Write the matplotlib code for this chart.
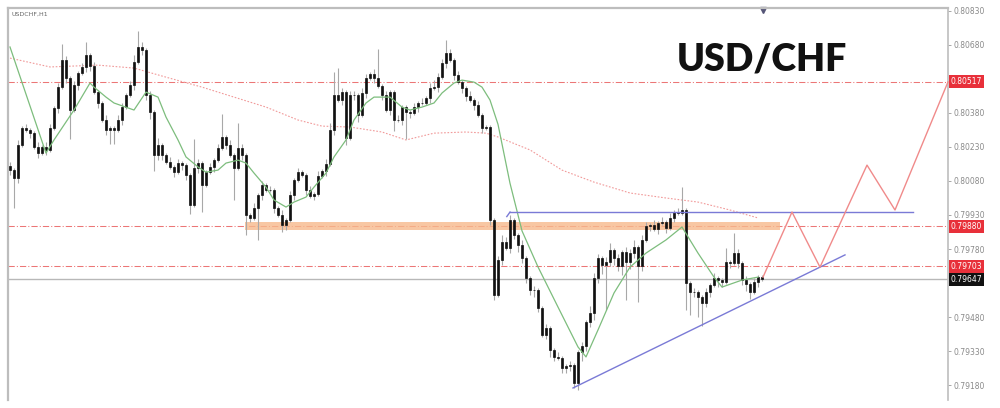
import numpy as np
import matplotlib
matplotlib.use('Agg')
import matplotlib.pyplot as plt
from matplotlib.transforms import blended_transform_factory

# ---- USDCHF H1 closes (one per candle, oldest first)
first_open = 0.80145
closes = [
    0.80128, 0.80093, 0.80239, 0.80313, 0.80305, 0.80291, 0.80230, 0.80203, 0.80230, 0.80216,
    0.80313, 0.80402, 0.80494, 0.80613, 0.80534, 0.80393, 0.80503, 0.80556, 0.80582, 0.80635,
    0.80587, 0.80472, 0.80424, 0.80349, 0.80305, 0.80313, 0.80305, 0.80349, 0.80406, 0.80459,
    0.80503, 0.80605, 0.80671, 0.80657, 0.80459, 0.80384, 0.80194, 0.80239, 0.80194, 0.80164,
    0.80141, 0.80119, 0.80159, 0.80150, 0.80106, 0.79974, 0.80137, 0.80159, 0.80062, 0.80119,
    0.80141, 0.80172, 0.80225, 0.80274, 0.80239, 0.80194, 0.80137, 0.80225, 0.80194, 0.79930,
    0.79917, 0.79961, 0.80018, 0.80062, 0.80040, 0.80040, 0.79961, 0.79930, 0.79886, 0.79908,
    0.80018, 0.80084, 0.80119, 0.80106, 0.80040, 0.80014, 0.80022, 0.80102, 0.80124, 0.80155,
    0.80305, 0.80459, 0.80437, 0.80472, 0.80269, 0.80459, 0.80459, 0.80371, 0.80468, 0.80534,
    0.80552, 0.80534, 0.80499, 0.80459, 0.80393, 0.80472, 0.80349, 0.80349, 0.80406, 0.80384,
    0.80380, 0.80406, 0.80424, 0.80424, 0.80446, 0.80490, 0.80494, 0.80538, 0.80600, 0.80644,
    0.80613, 0.80547, 0.80516, 0.80490, 0.80455, 0.80437, 0.80415, 0.80371, 0.80313, 0.80318,
    0.79908, 0.79577, 0.79731, 0.79811, 0.79784, 0.79908, 0.79842, 0.79798, 0.79740, 0.79652,
    0.79599, 0.79599, 0.79520, 0.79401, 0.79431, 0.79334, 0.79304, 0.79299, 0.79255, 0.79264,
    0.79268, 0.79189, 0.79326, 0.79352, 0.79458, 0.79498, 0.79652, 0.79740, 0.79709, 0.79723,
    0.79775, 0.79740, 0.79705, 0.79767, 0.79723, 0.79762, 0.79789, 0.79705, 0.79820, 0.79881,
    0.79886, 0.79868, 0.79895, 0.79899, 0.79872, 0.79917, 0.79943, 0.79939, 0.79952, 0.79630,
    0.79590, 0.79590, 0.79568, 0.79542, 0.79590, 0.79621, 0.79652, 0.79643, 0.79634, 0.79723,
    0.79718, 0.79762, 0.79718, 0.79643, 0.79626, 0.79590, 0.79634, 0.79656, 0.79648,
]
# wick lengths above / below the body, in pips
upper_wick = [
    2, 1, 2, 1, 2, 1, 1, 2, 1, 2,   2, 1, 2, 7, 2, 1, 2, 1, 2, 6,
    1, 2, 1, 1, 2, 1, 1, 2, 2, 1,   2, 3, 7, 2, 1, 2, 1, 3, 1, 1,
    2, 1, 2, 1, 1, 1, 13, 2, 1, 1,  2, 1, 2, 10, 1, 2, 1, 11, 2, 1,
    1, 2, 1, 2, 1, 2, 1, 1, 2, 1,   2, 1, 2, 1, 1, 2, 1, 2, 1, 2,
    3, 10, 12, 2, 1, 2, 2, 1, 2, 2, 1, 2, 13, 1, 2, 1, 1, 2, 1, 1,
    1, 2, 1, 2, 1, 2, 3, 2, 2, 6,   2, 1, 2, 1, 1, 2, 1, 2, 1, 1,
    1, 1, 2, 3, 2, 2, 1, 1, 2, 1,   1, 2, 1, 1, 2, 1, 1, 2, 1, 1,
    2, 1, 1, 2, 1, 3, 2, 2, 1, 2,   3, 1, 2, 1, 2, 2, 3, 1, 2, 2,
    1, 2, 1, 2, 1, 2, 1, 2, 10, 1,  1, 2, 1, 1, 2, 1, 2, 1, 1, 6,
    1, 9, 2, 1, 2, 1, 2, 1, 1,
]
lower_wick = [
    2, 13, 2, 1, 1, 2, 1, 2, 1, 2,  1, 1, 2, 1, 2, 13, 1, 2, 1, 2,
    2, 1, 2, 1, 2, 6, 6, 1, 2, 1,   1, 2, 1, 2, 2, 3, 7, 2, 2, 1,
    1, 2, 1, 2, 2, 4, 1, 2, 12, 1,  1, 2, 1, 1, 2, 1, 14, 1, 2, 9,
    2, 1, 14, 2, 1, 1, 2, 1, 3, 2,  1, 2, 1, 1, 2, 1, 2, 1, 1, 2,
    1, 2, 1, 2, 3, 1, 2, 3, 1, 2,   1, 2, 1, 2, 1, 2, 5, 1, 2, 12,
    2, 1, 2, 1, 1, 2, 1, 2, 1, 2,   1, 2, 1, 2, 2, 1, 2, 1, 2, 1,
    2, 2, 1, 2, 1, 2, 2, 3, 2, 2,   2, 3, 2, 1, 2, 3, 2, 1, 2, 2,
    2, 2, 3, 4, 2, 2, 3, 2, 4, 20,  2, 3, 2, 4, 17, 3, 2, 16, 2, 1,
    2, 1, 2, 1, 2, 1, 2, 1, 1, 12,  10, 2, 9, 10, 2, 2, 1, 3, 2, 1,
    2, 1, 2, 2, 3, 3, 1, 2, 1,
]

# moving averages (candle index, value)
fast_ma_idx = [0, 9, 11, 16, 20, 21, 24, 26, 31, 34, 37, 39, 42, 44, 47, 49, 52, 54, 57, 59,
               61, 64, 66, 69, 71, 74, 76, 79, 81, 84, 86, 89, 91, 95, 98, 100, 103, 106, 108,
               111, 113, 116, 118, 120, 122, 125, 128, 132, 137, 142, 144, 147, 151, 155, 159,
               164, 168, 172, 176, 178, 183, 187]
fast_ma_val = [0.80671, 0.80203, 0.80261, 0.80393, 0.80512, 0.80494, 0.80450, 0.80424, 0.80393,
               0.80472, 0.80450, 0.80362, 0.80261, 0.80186, 0.80142, 0.80119, 0.80128, 0.80159,
               0.80172, 0.80159, 0.80115, 0.80053, 0.79996, 0.79965, 0.79987, 0.80009, 0.80053,
               0.80115, 0.80186, 0.80261, 0.80349, 0.80424, 0.80450, 0.80450, 0.80406, 0.80393,
               0.80406, 0.80424, 0.80468, 0.80512, 0.80525, 0.80516, 0.80494, 0.80437, 0.80330,
               0.80070, 0.79860, 0.79701, 0.79524, 0.79348, 0.79304, 0.79423, 0.79586, 0.79700,
               0.79762, 0.79820, 0.79877, 0.79762, 0.79656, 0.79612, 0.79643, 0.79656]
slow_ma_idx = [0, 10, 22, 31, 39, 48, 56, 64, 72, 78, 85, 93, 99, 106, 114, 119, 122, 130,
               138, 146, 155, 164, 172, 180, 187]
slow_ma_val = [0.80622, 0.80583, 0.80591, 0.80578, 0.80538, 0.80494, 0.80450, 0.80406, 0.80349,
               0.80322, 0.80318, 0.80296, 0.80261, 0.80291, 0.80296, 0.80291, 0.80274, 0.80217,
               0.80128, 0.80075, 0.80027, 0.80005, 0.79987, 0.79952, 0.79917]

# levels
red_levels = [0.80517, 0.79880, 0.79703]
last_price = 0.79647
zone_lo, zone_hi = 0.79863, 0.79898
zone_idx = (58.75, 192.5)
resist_price = 0.79943
resist_idx = (125, 225.75)
trend_idx = [140.75, 208.75]
trend_val = [0.79167, 0.79754]
# projected path
path_idx = [188.25, 195.5, 202.5, 214.25, 221.25, 234.5]
path_val = [0.79656, 0.79943, 0.79700, 0.80150, 0.79952, 0.80517]

yticks = [0.80830, 0.80680, 0.80380, 0.80230, 0.80080, 0.79930, 0.79780, 0.79480, 0.79330, 0.79180]

# ---- figure
fig = plt.figure(figsize=(10, 4.08), dpi=100)
ax = fig.add_axes([0.008, 0.0196, 0.94, 0.9608])
ax.set_xlim(-0.5, 234.5)
ax.set_ylim(0.79114, 0.80843)

n = len(closes)
idx = np.arange(n)
c = np.array(closes)
o = np.array([first_open] + closes[:-1])
top = np.maximum(o, c)
bot = np.minimum(o, c)
hi = top + np.array(upper_wick) * 0.0001
lo = bot - np.array(lower_wick) * 0.0001

# reference levels
for lv in red_levels:
    ax.axhline(lv, color='#ec7676', lw=0.75, ls=(0, (6, 2, 1, 2)), zorder=1)
ax.axhline(last_price, color='#b8b8b8', lw=1.0, zorder=1)
ax.fill_between(zone_idx, zone_lo, zone_hi, color='#f7b98c', alpha=0.8, lw=0, zorder=1)

# moving averages
ax.plot(slow_ma_idx, slow_ma_val, color='#f19a9a', lw=0.8, ls=(0, (1.5, 1.5)), zorder=2)
ax.plot(fast_ma_idx, fast_ma_val, color='#7dbd7d', lw=0.9, zorder=4)

# candles
ax.vlines(idx, lo, hi, color='#a8a8a8', lw=0.8, zorder=3)
ax.bar(idx, np.maximum(top - bot, 0.00002), bottom=bot, width=0.6,
       color='#111111', edgecolor='#111111', lw=0.5, zorder=3)

# drawn objects
ax.plot([resist_idx[0] - 0.8, resist_idx[0]], [resist_price - 0.00020, resist_price],
        color='#7a7ad6', lw=1.0, zorder=5)
ax.plot(resist_idx, [resist_price, resist_price], color='#7a7ad6', lw=1.0, zorder=5)
ax.plot(trend_idx, trend_val, color='#7a7ad6', lw=1.0, zorder=5)
ax.plot(path_idx, path_val, color='#f08a8a', lw=1.0, zorder=5, clip_on=False)

# axes styling
for s in ['top', 'left', 'right']:
    ax.spines[s].set_color('#bdbdbd')
ax.spines['top'].set_linewidth(1.6)
ax.spines['left'].set_linewidth(1.6)
ax.spines['right'].set_linewidth(1.2)
ax.spines['bottom'].set_visible(False)
ax.set_xticks([])
ax.yaxis.tick_right()
ax.set_yticks(yticks)
ax.set_yticklabels([f'{v:.5f}' for v in yticks])
ax.tick_params(axis='y', length=2, width=0.6, color='#999999', labelsize=5.5,
               labelcolor='#8a8a8a', pad=2)

# price tags on the right axis
tr = blended_transform_factory(ax.transAxes, ax.transData)
for lv in red_levels:
    ax.text(1.003, lv, f'{lv:.5f}', transform=tr, fontsize=5.5, color='white', va='center',
            ha='left', bbox=dict(boxstyle='square,pad=0.25', fc='#e8303a', ec='none'))
ax.text(1.003, last_price, f'{last_price:.5f}', transform=tr, fontsize=5.5, color='white',
        va='center', ha='left', bbox=dict(boxstyle='square,pad=0.25', fc='#111111', ec='none'))

ax.plot([188.25], [0.996], marker='v', ms=4, color='#555577', transform=ax.get_xaxis_transform(),
        clip_on=False)

fig.text(0.012, 1 - 14 / 408, 'USDCHF,H1', fontsize=4.5, color='#666666', va='center')
fig.text(0.762, 0.853, 'USD/CHF', ha='center', va='center', fontsize=27,
         fontweight='heavy', family=['Lato', 'DejaVu Sans'], color='#111111')

fig.savefig('out.png', dpi=100)
